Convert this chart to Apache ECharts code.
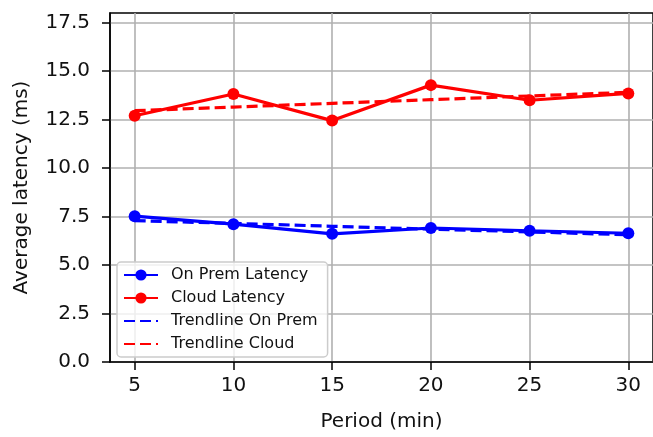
<!DOCTYPE html>
<html>
<head>
<meta charset="utf-8">
<script src="https://cdn.jsdelivr.net/npm/echarts@6/dist/echarts.min.js"></script>
<style>
html, body { margin: 0; padding: 0; background: #fff; }
#chart { width: 653px; height: 437px; }
</style>
</head>
<body>
<div id="chart"></div>
<script>
var periods = [5, 10, 15, 20, 25, 30];
var onPrem = [7.52, 7.11, 6.61, 6.91, 6.77, 6.64];
var cloud = [12.70, 13.82, 12.45, 14.28, 13.50, 13.85];
var trendOnPrem = [7.29, 7.15, 7.00, 6.85, 6.71, 6.56];
var trendCloud = [12.96, 13.15, 13.34, 13.53, 13.72, 13.91];
var xTicks = [5, 10, 15, 20, 25, 30];
var yTicks = [0, 2.5, 5, 7.5, 10, 12.5, 15, 17.5];

function pairs(vals) {
    return periods.map(function (p, i) {
        return [p, vals[i]];
    });
}

var font = 'DejaVu Sans';
var myChart = echarts.init(document.getElementById('chart'));

option = {
    animation: false,
    textStyle: { fontFamily: font },
    grid: {
        left: 110,
        right: -8,
        top: 13,
        bottom: 69,
        show: true,
        borderColor: '#000',
        borderWidth: 1.5
    },
    legend: {
        orient: 'vertical',
        left: 117,
        top: 262,
        padding: [5, 10, 5, 6],
        itemGap: 7,
        itemWidth: 34,
        itemHeight: 14,
        backgroundColor: 'rgba(255,255,255,0.8)',
        borderColor: '#cccccc',
        borderWidth: 1.5,
        borderRadius: 4,
        textStyle: {
            fontFamily: font,
            fontSize: 16,
            color: '#111',
            padding: [0, 0, 0, 8]
        },
        data: [
            { name: 'On Prem Latency' },
            { name: 'Cloud Latency' },
            { name: 'Trendline On Prem', itemStyle: { opacity: 0 } },
            { name: 'Trendline Cloud', itemStyle: { opacity: 0 } }
        ]
    },
    xAxis: {
        type: 'value',
        min: 3.75,
        max: 31.25,
        name: 'Period (min)',
        nameLocation: 'middle',
        nameGap: 50,
        nameTextStyle: { fontFamily: font, fontSize: 20, color: '#111' },
        axisLine: { show: true, lineStyle: { color: '#000', width: 1.5 } },
        axisTick: { show: true, length: 8, customValues: xTicks, lineStyle: { color: '#000', width: 1.5 } },
        axisLabel: { customValues: xTicks, margin: 14, fontFamily: font, fontSize: 20, color: '#111' },
        splitLine: { show: true, lineStyle: { color: '#b0b0b0', width: 1.6 } }
    },
    yAxis: {
        type: 'value',
        min: 0,
        max: 18,
        name: 'Average latency (ms)',
        nameLocation: 'middle',
        nameGap: 78,
        nameTextStyle: { fontFamily: font, fontSize: 20, color: '#111' },
        axisLine: { show: true, lineStyle: { color: '#000', width: 1.5 } },
        axisTick: { show: true, length: 8, customValues: yTicks, lineStyle: { color: '#000', width: 1.5 } },
        axisLabel: {
            customValues: yTicks,
            margin: 20,
            fontFamily: font,
            fontSize: 20,
            color: '#111',
            formatter: function (v) {
                return v.toFixed(1);
            }
        },
        splitLine: { show: true, lineStyle: { color: '#b0b0b0', width: 1.6 } }
    },
    series: [{
        name: 'On Prem Latency',
        type: 'line',
        data: pairs(onPrem),
        symbol: 'circle',
        symbolSize: 12,
        color: '#0000ff',
        lineStyle: { width: 3.2, color: '#0000ff' },
        z: 4
    }, {
        name: 'Cloud Latency',
        type: 'line',
        data: pairs(cloud),
        symbol: 'circle',
        symbolSize: 12,
        color: '#ff0000',
        lineStyle: { width: 3.2, color: '#ff0000' },
        z: 4
    }, {
        name: 'Trendline On Prem',
        type: 'line',
        data: pairs(trendOnPrem),
        symbol: 'none',
        color: '#0000ff',
        lineStyle: { width: 3.2, color: '#0000ff', type: [11, 5] },
        z: 5
    }, {
        name: 'Trendline Cloud',
        type: 'line',
        data: pairs(trendCloud),
        symbol: 'none',
        color: '#ff0000',
        lineStyle: { width: 3.2, color: '#ff0000', type: [11, 5] },
        z: 5
    }]
};
myChart.setOption(option);
</script>
</body>
</html>
